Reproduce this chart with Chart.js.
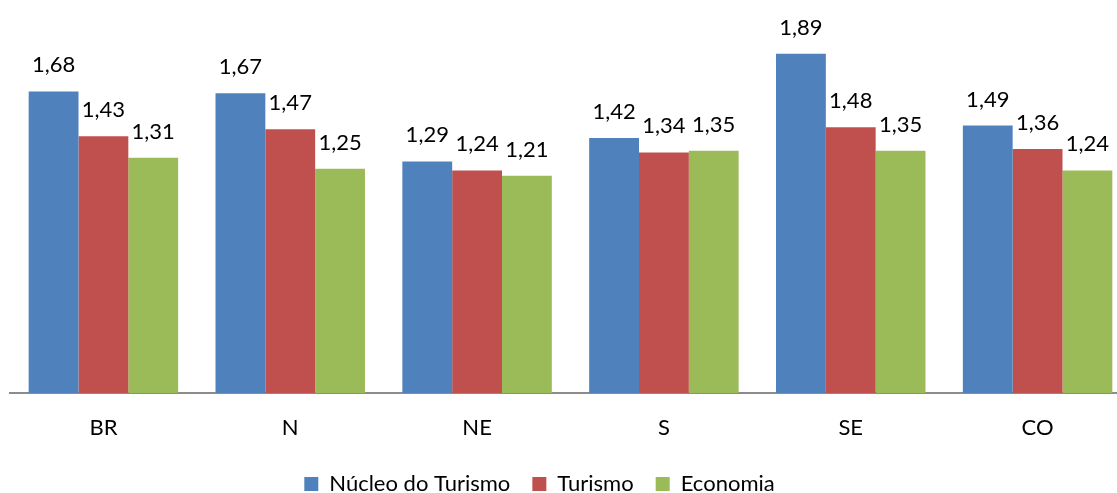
<!DOCTYPE html>
<html>
<head>
<meta charset="utf-8">
<script src="https://cdn.jsdelivr.net/npm/chart.js@4/dist/chart.umd.min.js"></script>
<style>
  html, body { margin: 0; padding: 0; background: #fff; overflow: hidden; width: 1117px; height: 493px; }
  #wrap { position: absolute; left: -52px; top: 0; width: 1183px; height: 505px; }
</style>
</head>
<body>
<div id="wrap"><canvas id="c" width="1183" height="505"></canvas></div>
<script>
const categories = ['BR', 'N', 'NE', 'S', 'SE', 'CO'];
const seriesNames = ['Núcleo do Turismo', 'Turismo', 'Economia'];
const nucleoTurismo = [1.68, 1.67, 1.29, 1.42, 1.89, 1.49];
const turismo = [1.43, 1.47, 1.24, 1.34, 1.48, 1.36];
const economia = [1.31, 1.25, 1.21, 1.35, 1.35, 1.24];
const colors = ['#4F81BD', '#C0504D', '#9BBB59'];

const FONT = 'Lato';

const valueLabels = {
  id: 'valueLabels',
  afterDatasetsDraw(chart) {
    const ctx = chart.ctx;
    ctx.save();
    ctx.font = '22px ' + FONT;
    ctx.fillStyle = '#000';
    ctx.textAlign = 'center';
    ctx.textBaseline = 'alphabetic';
    chart.data.datasets.forEach((ds, i) => {
      const meta = chart.getDatasetMeta(i);
      meta.data.forEach((bar, j) => {
        const txt = ds.data[j].toFixed(2).replace('.', ',');
        ctx.fillText(txt, bar.x, bar.y - 19);
      });
    });
    ctx.restore();
  }
};

Chart.defaults.font.family = FONT;
Chart.defaults.color = '#000';

new Chart(document.getElementById('c'), {
  type: 'bar',
  data: {
    labels: categories,
    datasets: [
      { label: seriesNames[0], data: nucleoTurismo, backgroundColor: colors[0], borderWidth: 0 },
      { label: seriesNames[1], data: turismo, backgroundColor: colors[1], borderWidth: 0 },
      { label: seriesNames[2], data: economia, backgroundColor: colors[2], borderWidth: 0 }
    ]
  },
  options: {
    responsive: false,
    animation: false,
    devicePixelRatio: 1,
    layout: { padding: { top: 34, left: 0, right: 0, bottom: 0 } },
    datasets: { bar: { categoryPercentage: 0.8, barPercentage: 1.0 } },
    scales: {
      x: {
        grid: { display: false, drawTicks: false },
        border: { display: true, color: '#8c8c8c', width: 2 },
        ticks: { padding: 22, font: { size: 22, family: FONT }, color: '#000' },
        afterFit(scale) { scale.height = 58; }
      },
      y: {
        min: 0, max: 2,
        grid: { display: false },
        border: { display: false },
        ticks: { display: false },
        afterFit(scale) { scale.width = 62; }
      }
    },
    plugins: {
      legend: {
        position: 'bottom',
        labels: {
          boxWidth: 14, boxHeight: 14, padding: 22,
          font: { size: 22, family: FONT }, color: '#000'
        }
      },
      tooltip: { enabled: false }
    }
  },
  plugins: [valueLabels]
});
</script>
</body>
</html>
